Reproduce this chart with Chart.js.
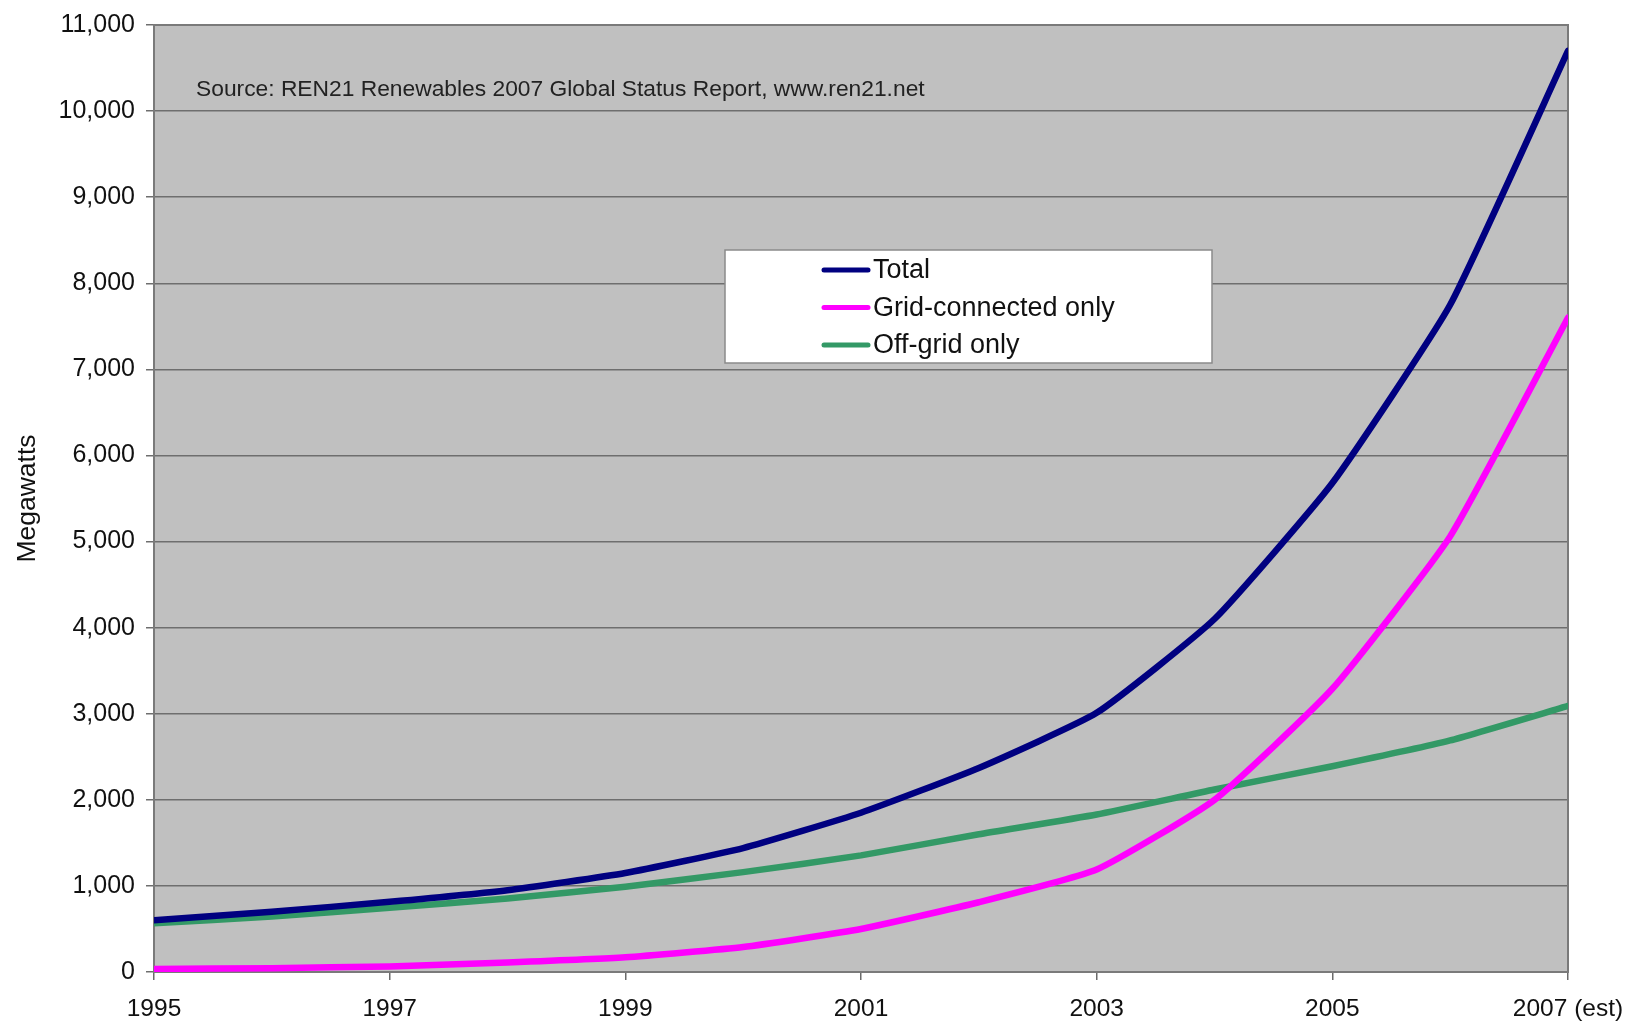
<!DOCTYPE html>
<html>
<head>
<meta charset="utf-8">
<title>Solar PV capacity, 1995-2007</title>
<script src="https://cdn.jsdelivr.net/npm/chart.js@4.4.1/dist/chart.umd.min.js"></script>
<style>
  html, body { margin: 0; padding: 0; background: #fff; }
  #wrap { width: 1633px; height: 1025px; }
</style>
</head>
<body>
<div id="wrap"><canvas id="chart"></canvas></div>
<script>
// Installed capacity in megawatts, by year
const years = [1995, 1996, 1997, 1998, 1999, 2000, 2001, 2002, 2003, 2004, 2005, 2006, 2007];
const total = [600, 700, 815, 950, 1150, 1440, 1850, 2370, 3010, 4100, 5680, 7750, 10700];
const gridConnected = [35, 45, 65, 110, 170, 290, 500, 810, 1190, 2000, 3290, 5060, 7600];
const offGrid = [565, 645, 745, 855, 990, 1160, 1355, 1600, 1830, 2120, 2390, 2690, 3090];

const seriesLabels = ['Total', 'Grid-connected only', 'Off-grid only'];
const sourceNote = 'Source: REN21 Renewables 2007 Global Status Report, www.ren21.net';
const lastYearLabel = '2007 (est)';

const FONT = '"Liberation Sans", Arial, Helvetica, sans-serif';
const toPoints = vals => vals.map((v, i) => ({ x: years[i], y: v }));

// Grey plot background, frame, source line and the boxed legend
const plotDecor = {
  id: 'plotDecor',
  beforeDraw(chart) {
    const { ctx, chartArea: a } = chart;
    ctx.save();
    ctx.fillStyle = '#c0c0c0';
    ctx.fillRect(a.left, a.top, a.right - a.left, a.bottom - a.top);
    ctx.restore();
  },
  beforeDatasetsDraw(chart) {
    const { ctx, chartArea: a } = chart;
    ctx.save();
    ctx.strokeStyle = '#7a7a7a';
    ctx.lineWidth = 2;
    ctx.strokeRect(a.left, a.top, a.right - a.left, a.bottom - a.top);
    ctx.fillStyle = '#222';
    ctx.font = '22.8px ' + FONT;
    ctx.textBaseline = 'middle';
    ctx.fillText(sourceNote, a.left + 42, a.top + 65);
    ctx.restore();
  },
  afterDatasetsDraw(chart) {
    const { ctx, chartArea: a } = chart;
    const bx = a.left + 571, by = a.top + 225, bw = 487, bh = 113;
    ctx.save();
    ctx.fillStyle = '#fff';
    ctx.fillRect(bx, by, bw, bh);
    ctx.strokeStyle = '#8a8a8a';
    ctx.lineWidth = 1.5;
    ctx.strokeRect(bx, by, bw, bh);
    ctx.font = '27px ' + FONT;
    ctx.textBaseline = 'middle';
    chart.data.datasets.forEach((ds, i) => {
      const y = by + 20 + i * 37.5;
      ctx.strokeStyle = ds.borderColor;
      ctx.lineWidth = 5;
      ctx.lineCap = 'round';
      ctx.beginPath();
      ctx.moveTo(bx + 99, y);
      ctx.lineTo(bx + 143, y);
      ctx.stroke();
      ctx.fillStyle = '#111';
      ctx.fillText(ds.label, bx + 148, y + 1);
    });
    ctx.restore();
  }
};

new Chart(document.getElementById('chart'), {
  type: 'line',
  data: {
    datasets: [
      { label: seriesLabels[0], data: toPoints(total), borderColor: '#000080' },
      { label: seriesLabels[1], data: toPoints(gridConnected), borderColor: '#ff00ff' },
      { label: seriesLabels[2], data: toPoints(offGrid), borderColor: '#339966' }
    ]
  },
  options: {
    responsive: true,
    maintainAspectRatio: false,
    animation: false,
    layout: { padding: { top: 25, right: 65, left: 0, bottom: 0 } },
    elements: {
      line: { borderWidth: 6.5, tension: 0.15, borderCapStyle: 'round', borderJoinStyle: 'round' },
      point: { radius: 0, hoverRadius: 0 }
    },
    plugins: {
      legend: { display: false },
      tooltip: { enabled: false }
    },
    scales: {
      x: {
        type: 'linear',
        min: 1995,
        max: 2007,
        afterFit(scale) {
          scale.height = 53;
          // the end labels may hang into the outer padding
          scale.paddingLeft = 0;
          scale.paddingRight = 0;
        },
        ticks: {
          stepSize: 2,
          padding: 15,
          color: '#111',
          font: { family: FONT, size: 24.5 },
          callback: v => (v === 2007 ? lastYearLabel : String(v))
        },
        grid: { drawOnChartArea: false, drawTicks: true, tickLength: 8, color: '#6a6a6a', lineWidth: 1.5 },
        border: { color: '#6a6a6a', width: 2 }
      },
      y: {
        min: 0,
        max: 11000,
        afterFit(scale) {
          scale.width = 154;
          scale.paddingTop = 0;
          scale.paddingBottom = 0;
        },
        ticks: {
          stepSize: 1000,
          padding: 11,
          color: '#111',
          font: { family: FONT, size: 25 },
          callback: v => v.toLocaleString('en-US')
        },
        grid: { color: '#6e6e6e', lineWidth: 1.5, tickLength: 8 },
        border: { color: '#555', width: 2 },
        title: {
          display: true,
          text: 'Megawatts',
          color: '#111',
          font: { family: FONT, size: 26.5 },
          padding: { top: 12, bottom: 0 }
        }
      }
    }
  },
  plugins: [plotDecor]
});
</script>
</body>
</html>
